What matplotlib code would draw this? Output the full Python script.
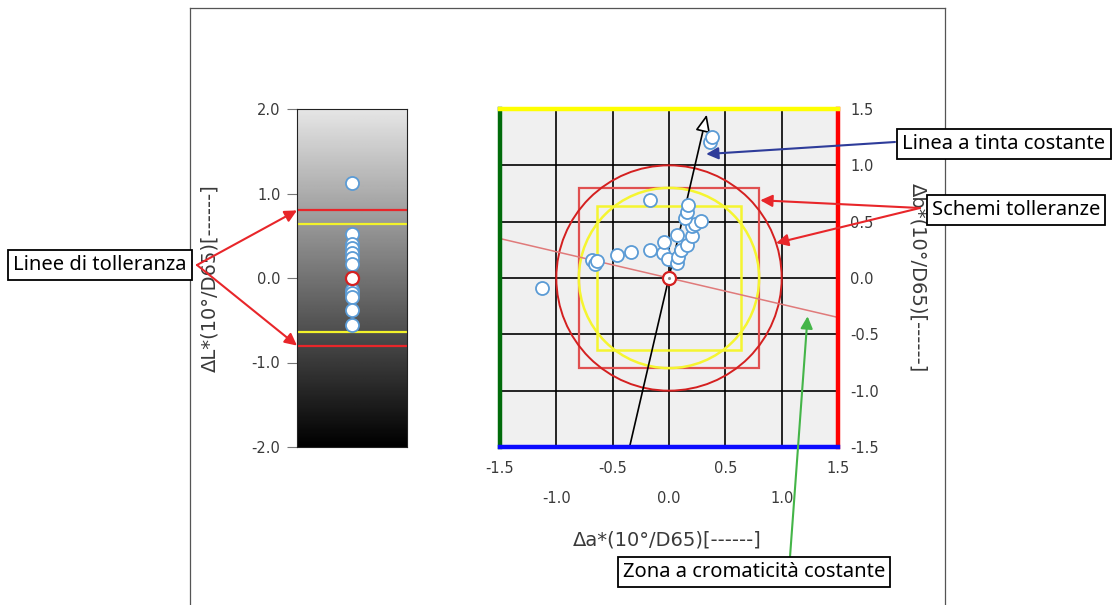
import numpy as np
import matplotlib.pyplot as plt
from matplotlib.patches import Rectangle, Circle
from matplotlib.lines import Line2D

# Data
dL = [1.12, 0.52, 0.40, 0.35, 0.29, 0.24, 0.17, -0.14, -0.18, -0.22, -0.38, -0.56]
da = [-1.13, -0.68, -0.66, -0.64, -0.46, -0.34, -0.17, -0.17, -0.05, -0.04, -0.01,
      0.07, 0.08, 0.11, 0.07, 0.16, 0.20, 0.20, 0.23, 0.14, 0.16, 0.17, 0.28, 0.36, 0.38]
db = [-0.09, 0.16, 0.12, 0.15, 0.20, 0.23, 0.69, 0.25, 0.22, 0.32, 0.17,
      0.13, 0.19, 0.25, 0.38, 0.29, 0.37, 0.46, 0.48, 0.53, 0.59, 0.65, 0.51, 1.21, 1.25]
tol_red = 0.8       # red tolerance (lines / square)
tol_yellow = 0.64   # yellow tolerance (lines / square)
circle_red = 1.0
circle_yellow = 0.8
hue_a = [-0.35, 0.335]    # hue line start/end
hue_b = [-1.5, 1.45]
chroma_a = [-1.5, 1.5]    # constant chroma line
chroma_b = [0.35, -0.35]
l_ticks = [2.0, 1.0, 0.0, -1.0, -2.0]
ab_ticks = [-1.5, -1.0, -0.5, 0.0, 0.5, 1.0, 1.5]

W, H = 1118, 605
fig = plt.figure(figsize=(W/100, H/100), dpi=100)

def px_axes(x0, y0, x1, y1):
    return fig.add_axes([x0/W, 1 - y1/H, (x1 - x0)/W, (y1 - y0)/H])

txt_col = '#3a3a3a'
pt_col = '#5b9bd5'
red = '#e8262a'

# outer frame
for xs, ys in [([190, 190], [8, H]), ([945, 945], [8, H]), ([190, 945], [8, 8])]:
    fig.add_artist(Line2D([x/W for x in xs], [1 - y/H for y in ys],
                          transform=fig.transFigure, color='#555555', lw=0.9))

# ---- left panel: Delta L ----
axL = px_axes(297, 109, 407, 447)
grad = np.linspace(0.9, 0.0, 256).reshape(-1, 1)
axL.imshow(grad, cmap='gray', vmin=0, vmax=1, extent=(-1, 1, -2, 2),
           aspect='auto', origin='upper')
axL.set_xlim(-1, 1)
axL.set_ylim(-2, 2)
for t in (tol_red, -tol_red):
    axL.axhline(t, color=red, lw=1.6)
for t in (tol_yellow, -tol_yellow):
    axL.axhline(t, color='#f2f22a', lw=1.6)
axL.plot(np.zeros(len(dL)), dL, 'o', mfc='white', mec=pt_col, ms=9.4, mew=1.3)
axL.plot(0, 0, 'o', mfc='white', mec='#d42020', ms=9.4, mew=1.6)
axL.set_xticks([])
axL.set_yticks(l_ticks)
axL.set_yticklabels([f'{v:.1f}' for v in l_ticks])
axL.tick_params(axis='y', length=7, pad=5, labelsize=10.5, labelcolor=txt_col, color='#777777')
for s in axL.spines.values():
    s.set_color('#222222')
axL.set_ylabel('ΔL*(10°/D65)[------]', fontsize=14, color=txt_col,
               va='center', rotation_mode='anchor')
axL.yaxis.set_label_coords((210 - 297)/110, 0.5)

# ---- right panel: a*b* ----
axR = px_axes(500, 109, 838, 447)
axR.set_facecolor('#f0f0f0')
axR.set_xlim(-1.5, 1.5)
axR.set_ylim(-1.5, 1.5)
axR.set_xticks(ab_ticks)
axR.set_yticks(ab_ticks)
axR.set_xticklabels([f'{v:.1f}' for v in ab_ticks])
axR.set_yticklabels([f'{v:.1f}' for v in ab_ticks])
axR.grid(True, color='black', lw=1.2)
axR.yaxis.tick_right()
axR.tick_params(length=0, labelsize=10.5, labelcolor=txt_col)
axR.tick_params(axis='y', pad=9)
for i, tk in enumerate(axR.xaxis.get_major_ticks()):
    tk.set_pad(10 if i % 2 == 0 else 32)
spine_cols = {'top': '#ffff00', 'left': '#006b0a', 'right': '#ff0000', 'bottom': '#0a0aff'}
for k, c in spine_cols.items():
    axR.spines[k].set_color(c)
    axR.spines[k].set_linewidth(3.2)
    axR.spines[k].set_zorder(6)

axR.add_patch(Rectangle((-tol_red, -tol_red), 2*tol_red, 2*tol_red, fill=False,
                        ec='#e05050', lw=1.6, zorder=2))
axR.add_patch(Rectangle((-tol_yellow, -tol_yellow), 2*tol_yellow, 2*tol_yellow, fill=False,
                        ec='#f5f530', lw=1.8, zorder=2))
axR.add_patch(Circle((0, 0), circle_yellow, fill=False, ec='#f5f530', lw=1.8, zorder=2))
axR.add_patch(Circle((0, 0), circle_red, fill=False, ec='#d42020', lw=1.4, zorder=2))
axR.plot(chroma_a, chroma_b, color='#e07a7a', lw=1.1, zorder=2)
axR.annotate('', xy=(hue_a[1], hue_b[1]), xytext=(hue_a[0], hue_b[0]),
             arrowprops=dict(arrowstyle='-|>,head_length=0.7,head_width=0.3', fc='white',
                             ec='black', lw=1.2, shrinkA=0, shrinkB=0, mutation_scale=15),
             zorder=3)
axR.scatter(da, db, s=88, facecolors='white', edgecolors=pt_col, linewidths=1.3, zorder=4)
axR.plot(0, 0, 'o', mfc='white', mec='#d42020', ms=9.4, mew=1.6, zorder=5)
axR.plot(0, 0, '.', color='#888888', ms=2.5, zorder=5)

axR.set_xlabel('Δa*(10°/D65)[------]', fontsize=14, color=txt_col, va='center')
axR.xaxis.set_label_coords((667 - 500)/338, (447 - 540)/338)
axR.yaxis.set_label_position('right')
axR.set_ylabel('Δb*(10°/D65)[------]', fontsize=14, color=txt_col, rotation=270,
               va='center', rotation_mode='anchor')
axR.yaxis.set_label_coords((918 - 500)/338, 0.5)

# ---- callouts ----
box = dict(boxstyle='square,pad=0.25', fc='white', ec='black', lw=1.3)
def callout(x, y, s):
    fig.text(x/W, 1 - y/H, s, ha='center', va='center', fontsize=14.5,
             family='Noto Sans', color='black', bbox=box, zorder=10)

def arrow(ax, xy, tail, col):
    ax.annotate('', xy=xy, xycoords='data', xytext=(tail[0], H - tail[1]),
                textcoords='figure pixels', annotation_clip=False,
                arrowprops=dict(arrowstyle='-|>', color=col, lw=1.5, mutation_scale=18,
                                shrinkA=0, shrinkB=0), zorder=8)

arrow(axL, (-1, tol_red), (197, 265), red)
arrow(axL, (-1, -tol_red), (197, 265), red)
arrow(axR, (0.33, 1.1), (895, 142), '#2e3c9a')
arrow(axR, (0.81, 0.69), (920, 208), red)
arrow(axR, (0.95, 0.31), (920, 208), red)
arrow(axR, (1.23, -0.34), (790, 557), '#44b548')

callout(100, 265, 'Linee di tolleranza')
callout(1004, 144, 'Linea a tinta costante')
callout(1016, 210, 'Schemi tolleranze')
callout(754, 572, 'Zona a cromaticità costante')

fig.savefig('out.png', dpi=100)
